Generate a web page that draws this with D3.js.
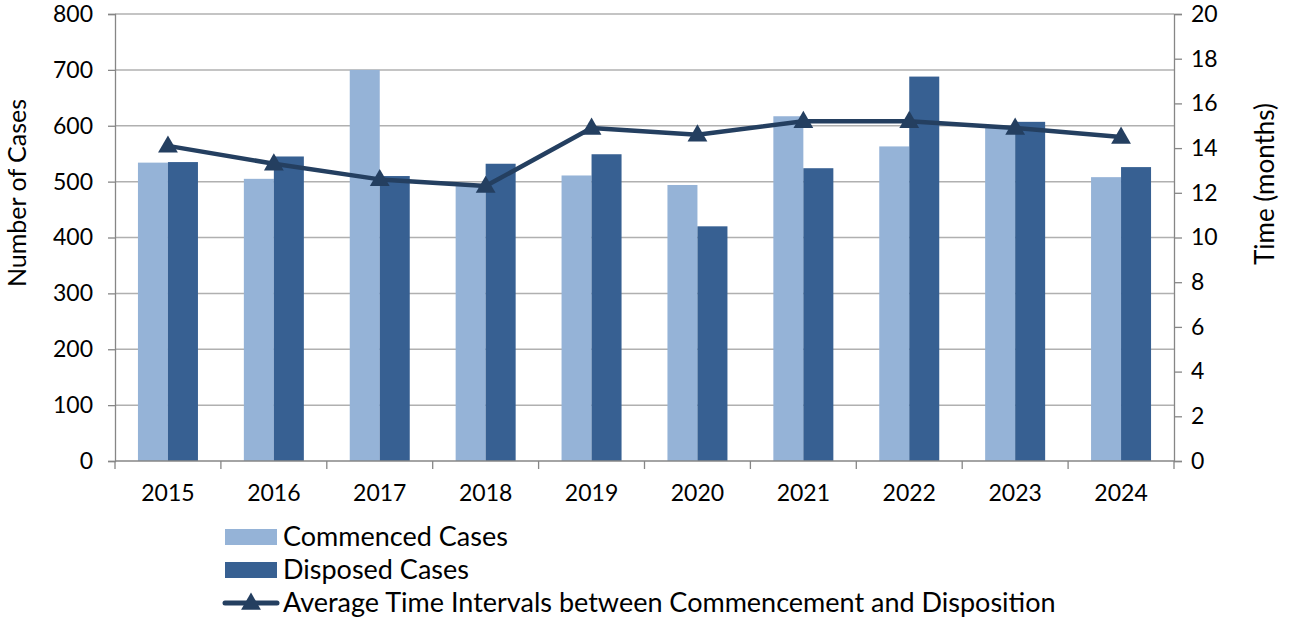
<!DOCTYPE html>
<html><head><meta charset="utf-8">
<script src="https://cdn.jsdelivr.net/npm/d3@7"></script>
<style>body{margin:0;background:#fff;} svg{display:block;font-family:Lato, "Open Sans", sans-serif;}</style>
</head><body>
<svg id="c" width="1293" height="620"></svg>
<script>
const years = ["2015","2016","2017","2018","2019","2020","2021","2022","2023","2024"];
const commenced = [534, 505, 700, 492, 511, 494, 617, 563, 600, 508];
const disposed = [535, 545, 510, 532, 549, 420, 524, 688, 607, 526];
const avgTime = [14.1, 13.3, 12.6, 12.3, 14.9, 14.6, 15.2, 15.2, 14.9, 14.5];
const leftTicks = [0,100,200,300,400,500,600,700,800];
const rightTicks = [0,2,4,6,8,10,12,14,16,18,20];
const legendLabels = ["Commenced Cases","Disposed Cases","Average Time Intervals between Commencement and Disposition"];

const C1="#95b3d7", C2="#376092", CL="#243f60", AX="#868686", GR="#b0b0b0";
const svg = d3.select("#c");
const L=115, R=1174, T=14, B=461;
const x = d3.scaleBand().domain(years).range([L,R]);
const y = d3.scaleLinear().domain([0,800]).range([B,T]);
const y2 = d3.scaleLinear().domain([0,20]).range([B,T]);
const bw = 30;

// gridlines
svg.append("g").selectAll("line").data(leftTicks.filter(d=>d>0)).join("line")
  .attr("x1",L).attr("x2",R).attr("y1",d=>y(d)).attr("y2",d=>y(d))
  .attr("stroke",GR).attr("stroke-width",1.5);

// bars
const g = svg.append("g");
g.selectAll(".b1").data(years).join("rect")
  .attr("x",d=>x(d)+x.bandwidth()/2-bw).attr("width",bw)
  .attr("y",(d,i)=>y(commenced[i])).attr("height",(d,i)=>B-y(commenced[i]))
  .attr("fill",C1);
g.selectAll(".b2").data(years).join("rect")
  .attr("x",d=>x(d)+x.bandwidth()/2).attr("width",bw)
  .attr("y",(d,i)=>y(disposed[i])).attr("height",(d,i)=>B-y(disposed[i]))
  .attr("fill",C2);

// axes
const fs = "23px";
const la = svg.append("g").attr("transform",`translate(${L},0)`)
  .call(d3.axisLeft(y).tickValues(leftTicks).tickSize(7).tickPadding(15));
const ra = svg.append("g").attr("transform",`translate(${R},0)`)
  .call(d3.axisRight(y2).tickValues(rightTicks).tickSize(8).tickPadding(9));
const xa = svg.append("g").attr("transform",`translate(0,${B})`)
  .call(d3.axisBottom(x).tickSize(0).tickPadding(24));
[la,ra,xa].forEach(a=>{
  a.select(".domain").attr("stroke",AX).attr("stroke-width",1.3);
  a.selectAll(".tick line").attr("stroke",AX).attr("stroke-width",1.3);
  a.selectAll("text").attr("font-size",fs).attr("fill","#000").attr("font-family","Lato, sans-serif");
});
xa.select(".domain").attr("d",`M${L},0H${R}`);
// category boundary ticks
svg.append("g").selectAll("line").data(years.concat(["end"])).join("line")
  .attr("x1",(d,i)=>L+i*x.step()).attr("x2",(d,i)=>L+i*x.step())
  .attr("y1",B).attr("y2",B+8).attr("stroke",AX).attr("stroke-width",1.3);

// line
const line = d3.line().x((d,i)=>x(years[i])+x.bandwidth()/2).y(d=>y2(d));
svg.append("path").datum(avgTime).attr("d",line).attr("fill","none")
  .attr("stroke",CL).attr("stroke-width",4.5).attr("stroke-linejoin","round");
const tri = d3.symbol().type(d3.symbolTriangle).size(170);
svg.append("g").selectAll("path").data(avgTime).join("path")
  .attr("d",tri).attr("fill",CL)
  .attr("transform",(d,i)=>`translate(${x(years[i])+x.bandwidth()/2},${y2(d)+1})`);

// axis titles
svg.append("text").attr("transform","translate(26,193) rotate(-90)")
  .attr("text-anchor","middle").attr("font-size","25px").text("Number of Cases");
svg.append("text").attr("transform","translate(1274,184) rotate(-90)")
  .attr("text-anchor","middle").attr("font-size","26px").text("Time (months)");

// legend
const lg = svg.append("g");
const ly = [537,570,603];
lg.append("rect").attr("x",225).attr("y",ly[0]-8).attr("width",52).attr("height",16).attr("fill",C1);
lg.append("rect").attr("x",225).attr("y",ly[1]-8).attr("width",52).attr("height",16).attr("fill",C2);
lg.append("line").attr("x1",225).attr("x2",277).attr("y1",ly[2]).attr("y2",ly[2]).attr("stroke",CL).attr("stroke-width",5).attr("stroke-linecap","round");
lg.append("path").attr("d",tri).attr("fill",CL).attr("transform",`translate(251,${ly[2]+1})`);
lg.selectAll("text").data(legendLabels).join("text")
  .attr("x",283).attr("y",(d,i)=>ly[i]).attr("dy","0.35em")
  .attr("font-size","27px").text(d=>d);
</script>
</body></html>
